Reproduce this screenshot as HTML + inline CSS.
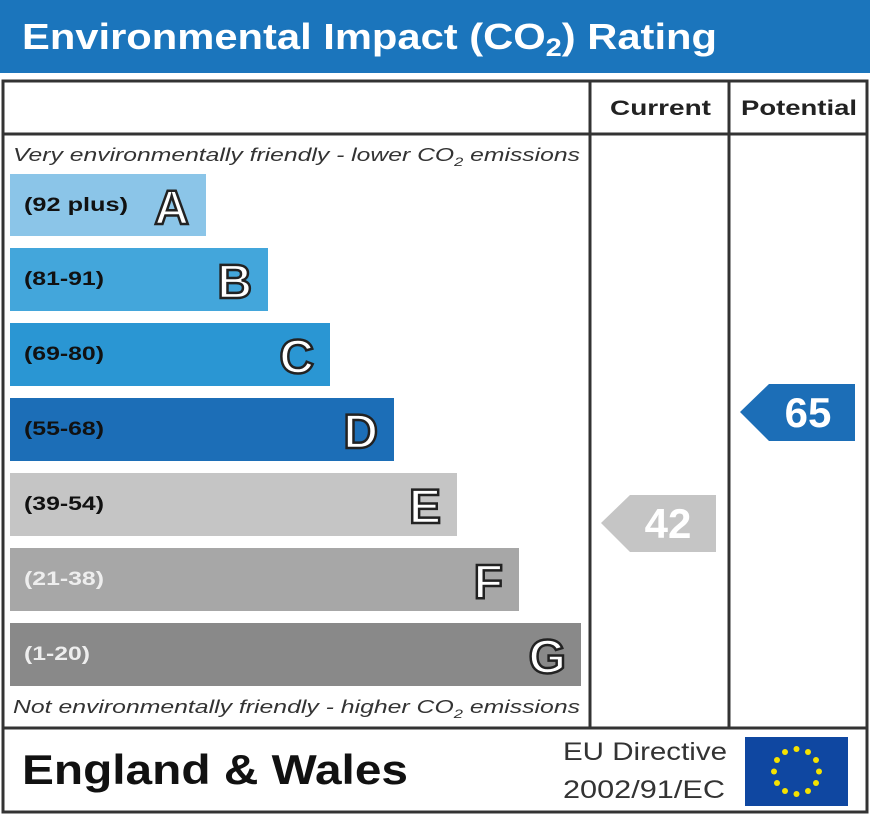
<!DOCTYPE html>
<html><head><style>body{margin:0;background:#fff}svg{display:block}</style></head><body>
<svg width="870" height="816" viewBox="0 0 870 816" xmlns="http://www.w3.org/2000/svg" font-family="Liberation Sans, Arial, sans-serif">
<rect x="0" y="0" width="870" height="73" fill="#1b75bc"/>
<text x="22" y="49" font-size="36" font-weight="bold" fill="#fff" textLength="695" lengthAdjust="spacingAndGlyphs">Environmental Impact (CO<tspan font-size="25" dy="7">2</tspan><tspan dy="-7">) Rating</tspan></text>
<g fill="none" stroke="#333" stroke-width="3">
<rect x="3" y="81" width="864" height="731"/>
<line x1="3" y1="134" x2="867" y2="134"/>
<line x1="3" y1="728" x2="867" y2="728"/>
<line x1="590" y1="81" x2="590" y2="728"/>
<line x1="729" y1="81" x2="729" y2="728"/>
</g>
<text x="610" y="115" font-size="21" font-weight="bold" fill="#222" textLength="101" lengthAdjust="spacingAndGlyphs">Current</text>
<text x="741" y="115" font-size="21" font-weight="bold" fill="#222" textLength="116" lengthAdjust="spacingAndGlyphs">Potential</text>
<text x="13" y="161" font-size="18" font-style="italic" fill="#333" textLength="567" lengthAdjust="spacingAndGlyphs">Very environmentally friendly - lower CO<tspan font-size="12" dy="5">2</tspan><tspan dy="-5"> emissions</tspan></text>
<text x="13" y="713" font-size="18" font-style="italic" fill="#333" textLength="567" lengthAdjust="spacingAndGlyphs">Not environmentally friendly - higher CO<tspan font-size="12" dy="5">2</tspan><tspan dy="-5"> emissions</tspan></text>
<g font-weight="bold">
<rect x="10" y="174" width="196" height="62" fill="#8bc5e8"/>
<text x="24" y="211" font-size="19" fill="#111" textLength="104" lengthAdjust="spacingAndGlyphs">(92 plus)</text>
<text x="189" y="224" font-size="48" fill="#fff" stroke="#222" stroke-width="2.5" text-anchor="end">A</text>
<rect x="10" y="248" width="258" height="63" fill="#43a6db"/>
<text x="24" y="285" font-size="19" fill="#111" textLength="80" lengthAdjust="spacingAndGlyphs">(81-91)</text>
<text x="252" y="298" font-size="48" fill="#fff" stroke="#222" stroke-width="2.5" text-anchor="end">B</text>
<rect x="10" y="323" width="320" height="63" fill="#2a96d3"/>
<text x="24" y="360" font-size="19" fill="#111" textLength="80" lengthAdjust="spacingAndGlyphs">(69-80)</text>
<text x="314" y="373" font-size="48" fill="#fff" stroke="#222" stroke-width="2.5" text-anchor="end">C</text>
<rect x="10" y="398" width="384" height="63" fill="#1c6eb7"/>
<text x="24" y="435" font-size="19" fill="#111" textLength="80" lengthAdjust="spacingAndGlyphs">(55-68)</text>
<text x="378" y="448" font-size="48" fill="#fff" stroke="#222" stroke-width="2.5" text-anchor="end">D</text>
<rect x="10" y="473" width="447" height="63" fill="#c5c5c5"/>
<text x="24" y="510" font-size="19" fill="#111" textLength="80" lengthAdjust="spacingAndGlyphs">(39-54)</text>
<text x="441" y="523" font-size="48" fill="#fff" stroke="#222" stroke-width="2.5" text-anchor="end">E</text>
<rect x="10" y="548" width="509" height="63" fill="#a7a7a7"/>
<text x="24" y="585" font-size="19" fill="#eee" textLength="80" lengthAdjust="spacingAndGlyphs">(21-38)</text>
<text x="503" y="598" font-size="48" fill="#fff" stroke="#222" stroke-width="2.5" text-anchor="end">F</text>
<rect x="10" y="623" width="571" height="63" fill="#898989"/>
<text x="24" y="660" font-size="19" fill="#eee" textLength="66" lengthAdjust="spacingAndGlyphs">(1-20)</text>
<text x="566" y="673" font-size="48" fill="#fff" stroke="#222" stroke-width="2.5" text-anchor="end">G</text>
<polygon points="740,412 769,384 855,384 855,441 769,441" fill="#1c6eb7"/>
<text x="808" y="427" font-size="42" fill="#fff" text-anchor="middle">65</text>
<polygon points="601,523 630,495 716,495 716,552 630,552" fill="#c5c5c5"/>
<text x="668" y="538" font-size="42" fill="#fff" text-anchor="middle">42</text>
</g>
<text x="22" y="784" font-size="42" font-weight="bold" fill="#111" textLength="386" lengthAdjust="spacingAndGlyphs">England &amp; Wales</text>
<text x="563" y="760" font-size="25" fill="#333" textLength="164" lengthAdjust="spacingAndGlyphs">EU Directive</text>
<text x="563" y="798" font-size="25" fill="#333" textLength="162" lengthAdjust="spacingAndGlyphs">2002/91/EC</text>
<rect x="745" y="737" width="103" height="69" fill="#0f47a1"/>
<g fill="#f5e200">
<circle cx="796.5" cy="749" r="3"/><circle cx="808" cy="752" r="3"/><circle cx="816" cy="760" r="3"/><circle cx="819" cy="771.5" r="3"/><circle cx="816" cy="783" r="3"/><circle cx="808" cy="791" r="3"/><circle cx="796.5" cy="794" r="3"/><circle cx="785" cy="791" r="3"/><circle cx="777" cy="783" r="3"/><circle cx="774" cy="771.5" r="3"/><circle cx="777" cy="760" r="3"/><circle cx="785" cy="752" r="3"/>
</g>
</svg>
</body></html>
